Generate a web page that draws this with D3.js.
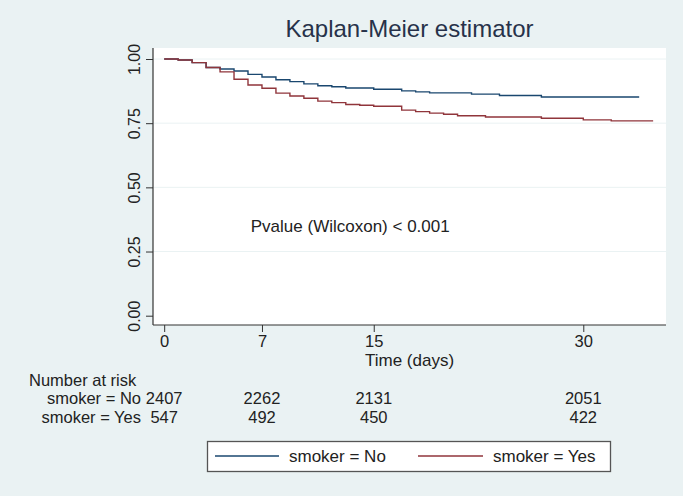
<!DOCTYPE html>
<html>
<head>
<meta charset="utf-8">
<script src="https://cdn.jsdelivr.net/npm/d3@7"></script>
<style>
  html, body { margin: 0; padding: 0; background: #eaf2f3; }
  svg { display: block; font-family: "Liberation Sans", Arial, sans-serif; }
</style>
</head>
<body>
<svg id="chart" width="683" height="496"></svg>
<script>
// ---- data ----
const titleText = "Kaplan-Meier estimator";
const xLabel = "Time (days)";
const groups = ["smoker = No", "smoker = Yes"];
const xTicks = [0, 7, 15, 30];
const yTicks = [0, 0.25, 0.5, 0.75, 1];
const yTickLabels = ["0.00", "0.25", "0.50", "0.75", "1.00"];

const timeNo = [0, 1, 2, 3, 4, 5, 6, 7, 8, 9, 10, 11, 12, 13, 15, 17, 18, 19, 22, 24, 27, 34];
const survNo = [1.0, 0.996, 0.986, 0.967, 0.961, 0.953, 0.940, 0.930, 0.919, 0.912, 0.903, 0.896, 0.892, 0.887, 0.882, 0.876, 0.872, 0.868, 0.863, 0.858, 0.852, 0.852];

const timeYes = [0, 1, 2, 3, 4, 5, 6, 7, 8, 9, 10, 11, 12, 13, 14, 15, 17, 18, 19, 20, 21, 23, 27, 30, 32, 35];
const survYes = [1.0, 0.996, 0.986, 0.967, 0.950, 0.921, 0.899, 0.886, 0.867, 0.856, 0.847, 0.836, 0.830, 0.823, 0.820, 0.816, 0.801, 0.795, 0.789, 0.785, 0.779, 0.774, 0.769, 0.763, 0.759, 0.759];

const riskNo = [2407, 2262, 2131, 2051];
const riskYes = [547, 492, 450, 422];

const pText = "Pvalue (Wilcoxon) < 0.001";
const riskTitle = "Number at risk";

const colors = ["#1a476f", "#90353b"];

// ---- layout ----
const svg = d3.select("#chart");
const plotL = 153, plotR = 666, plotT = 48, plotB = 325;
const FS = 17;
const TFS = 16.5; // risk table font size

const x = d3.scaleLinear().domain([-0.8, 35.92]).range([plotL, plotR]);
const y = d3.scaleLinear().domain([0, 1]).range([315.7, 59]);

// plot region
svg.append("rect").attr("x", plotL).attr("y", plotT)
  .attr("width", plotR - plotL).attr("height", plotB - plotT).attr("fill", "#ffffff");

// gridlines
svg.append("g").selectAll("line").data(yTicks.filter(d => d > 0)).join("line")
  .attr("x1", plotL).attr("x2", plotR)
  .attr("y1", d => y(d)).attr("y2", d => y(d))
  .attr("stroke", "#eaf2f3").attr("stroke-width", 1);

// curves
const line = d3.line().x(d => x(d[0])).y(d => y(d[1])).curve(d3.curveStepAfter);
const series = [
  d3.zip(timeNo, survNo),
  d3.zip(timeYes, survYes)
];
series.forEach((s, i) => {
  svg.append("path").datum(s).attr("d", line)
    .attr("fill", "none").attr("stroke", colors[i]).attr("stroke-width", 1.4);
});

// axes
const yAxis = d3.axisLeft(y).tickValues(yTicks).tickSize(7).tickFormat((d, i) => yTickLabels[i]);
const gy = svg.append("g").attr("transform", `translate(${plotL},0)`).call(yAxis);
gy.select(".domain").remove();
gy.selectAll(".tick line").attr("stroke", "#333");
gy.selectAll(".tick text")
  .attr("x", null).attr("dy", null)
  .attr("transform", "translate(-13,0) rotate(-90)")
  .attr("text-anchor", "middle")
  .attr("font-size", 16).attr("fill", "#222")
  .attr("font-family", "Liberation Sans, Arial, sans-serif");
svg.append("line").attr("x1", plotL).attr("x2", plotL).attr("y1", plotT).attr("y2", plotB)
  .attr("stroke", "#333").attr("stroke-width", 1.2);

const xAxis = d3.axisBottom(x).tickValues(xTicks).tickSize(7).tickFormat(d3.format("d"));
const gx = svg.append("g").attr("transform", `translate(0,${plotB})`).call(xAxis);
gx.select(".domain").remove();
gx.selectAll(".tick line").attr("stroke", "#333");
gx.selectAll(".tick text").attr("y", 22).attr("dy", null)
  .attr("font-size", 16.5).attr("fill", "#222")
  .attr("font-family", "Liberation Sans, Arial, sans-serif");
svg.append("line").attr("x1", plotL).attr("x2", plotR).attr("y1", plotB).attr("y2", plotB)
  .attr("stroke", "#333").attr("stroke-width", 1.2);

// title
svg.append("text").attr("x", (plotL + plotR) / 2).attr("y", 37)
  .attr("text-anchor", "middle").attr("font-size", 24).attr("fill", "#27324a")
  .text(titleText);

// x label
svg.append("text").attr("x", (plotL + plotR) / 2).attr("y", 366)
  .attr("text-anchor", "middle").attr("font-size", FS).attr("fill", "#222")
  .text(xLabel);

// p-value annotation
svg.append("text").attr("x", x(6.2)).attr("y", y(0.35) + 6)
  .attr("font-size", FS).attr("fill", "#222").text(pText);

// number at risk table
svg.append("text").attr("x", 29).attr("y", 385.5).attr("font-size", TFS).attr("fill", "#222").text(riskTitle);
const rows = [riskNo, riskYes];
const rowY = [404.4, 423.3];
rows.forEach((r, i) => {
  svg.append("text").attr("x", 141).attr("y", rowY[i]).attr("text-anchor", "end")
    .attr("font-size", TFS).attr("fill", "#222").text(groups[i]);
  svg.append("g").selectAll("text").data(r).join("text")
    .attr("x", (d, j) => x(xTicks[j])).attr("y", rowY[i])
    .attr("text-anchor", "middle").attr("font-size", TFS).attr("fill", "#222")
    .text(d => d);
});

// legend
const lg = svg.append("g");
lg.append("rect").attr("x", 207.5).attr("y", 441.5).attr("width", 403).attr("height", 30)
  .attr("fill", "#ffffff").attr("stroke", "#555").attr("stroke-width", 1.3);
const legX = [[215, 279, 289], [418, 483, 493]];
groups.forEach((g, i) => {
  lg.append("line").attr("x1", legX[i][0]).attr("x2", legX[i][1]).attr("y1", 456).attr("y2", 456)
    .attr("stroke", colors[i]).attr("stroke-width", 1.4);
  lg.append("text").attr("x", legX[i][2]).attr("y", 462).attr("font-size", FS).attr("fill", "#222").text(g);
});
</script>
</body>
</html>
